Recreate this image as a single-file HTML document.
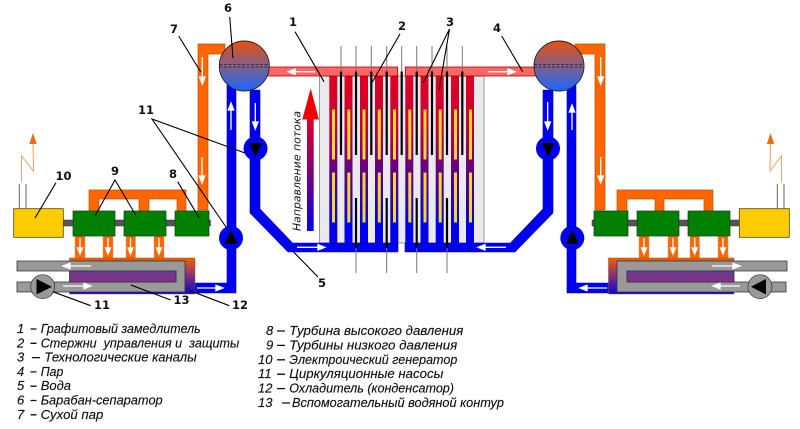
<!DOCTYPE html>
<html><head><meta charset="utf-8"><style>html,body{margin:0;padding:0;background:#fff}svg{display:block}
.n{font:bold 11.5px "DejaVu Sans",sans-serif;fill:#111;text-anchor:middle}
.l{font:italic 13px "Liberation Sans",sans-serif;fill:#111;stroke:#111;stroke-width:.15}
</style></head><body>
<svg width="800" height="429" viewBox="0 0 800 429" xmlns="http://www.w3.org/2000/svg">
<defs>
<linearGradient id="ch" gradientUnits="userSpaceOnUse" x1="0" y1="76" x2="0" y2="243"><stop offset="0" stop-color="#e00020"/><stop offset=".3" stop-color="#c80038"/><stop offset=".55" stop-color="#660080"/><stop offset=".75" stop-color="#3000b0"/><stop offset=".88" stop-color="#0000e8"/><stop offset="1" stop-color="#0000f0"/></linearGradient>
<linearGradient id="ar" gradientUnits="userSpaceOnUse" x1="0" y1="110" x2="0" y2="231"><stop offset="0" stop-color="#f00020"/><stop offset=".5" stop-color="#800070"/><stop offset="1" stop-color="#0000f0"/></linearGradient>
<linearGradient id="dr" x1="0" y1="0" x2="0" y2="1"><stop offset="0" stop-color="#e8500f"/><stop offset=".5" stop-color="#80608a"/><stop offset="1" stop-color="#1a66ff"/></linearGradient>
<linearGradient id="co" x1="0" y1="0" x2="0" y2="1"><stop offset="0" stop-color="#f06000"/><stop offset=".5" stop-color="#803080"/><stop offset="1" stop-color="#1000d0"/></linearGradient>
<linearGradient id="pu" x1="0" y1="0" x2="0" y2="1"><stop offset="0" stop-color="#6a3a90"/><stop offset="1" stop-color="#86308a"/></linearGradient>
</defs>

<!-- graphite -->
<rect x="319.5" y="76" width="164.5" height="167" fill="#e9e9ee" stroke="#999" stroke-width="1"/>
<!-- channels -->
<g fill="url(#ch)">
<rect x="329.3" y="76" width="8" height="167"/><rect x="344.5" y="76" width="8" height="167"/><rect x="360" y="76" width="8" height="167"/><rect x="375" y="76" width="8" height="167"/><rect x="390.3" y="76" width="8" height="167"/><rect x="405.3" y="76" width="8" height="167"/><rect x="420.5" y="76" width="8" height="167"/><rect x="435.7" y="76" width="8" height="167"/><rect x="451" y="76" width="8" height="167"/><rect x="466" y="76" width="8" height="167"/>
</g>
<g fill="#f4d832">
<rect x="332" y="109.5" width="3" height="50"/><rect x="347.3" y="109.5" width="3" height="50"/><rect x="362.5" y="109.5" width="3" height="50"/><rect x="377.8" y="109.5" width="3" height="50"/><rect x="393" y="109.5" width="3" height="50"/><rect x="408.3" y="109.5" width="3" height="50"/><rect x="423.5" y="109.5" width="3" height="50"/><rect x="438.7" y="109.5" width="3" height="50"/><rect x="454" y="109.5" width="3" height="50"/><rect x="469" y="109.5" width="3" height="50"/>
<rect x="332" y="172.5" width="3" height="50"/><rect x="347.3" y="172.5" width="3" height="50"/><rect x="362.5" y="172.5" width="3" height="50"/><rect x="377.8" y="172.5" width="3" height="50"/><rect x="393" y="172.5" width="3" height="50"/><rect x="408.3" y="172.5" width="3" height="50"/><rect x="423.5" y="172.5" width="3" height="50"/><rect x="438.7" y="172.5" width="3" height="50"/><rect x="454" y="172.5" width="3" height="50"/><rect x="469" y="172.5" width="3" height="50"/>
</g>

<!-- water headers -->
<path d="M250 90H260V209L292.5 243H398V252H288L250 213Z" fill="#0000f0" stroke="#0000a0" stroke-width=".6"/>
<path d="M553 90H543V209L510.5 243H405V252H515L553 213Z" fill="#0000f0" stroke="#0000a0" stroke-width=".6"/>
<!-- steam header -->
<path d="M262 67H397.7V76H262Z" fill="#ff6666" stroke="#900" stroke-width=".8"/>
<path d="M405.3 76V67H540V76Z" fill="#ff6666" stroke="#900" stroke-width=".8"/>

<!-- control rods -->
<g stroke="#777" stroke-width="1"><path d="M341 46V72M356 46V72M371.3 46V72M386.7 46V72M401.7 46V72M416.7 46V72M432 46V72M447 46V72M462.3 46V72M356 247V273M386.7 247V273M416.7 247V273M447 247V273"/></g>
<g stroke="#000" stroke-width="2.2"><path d="M341 71.5V155M356 71.5V155M371.3 71.5V155M386.7 71.5V155M401.7 71.5V155M416.7 71.5V155M432 71.5V155M447 71.5V155M462.3 71.5V155M356 198V248M386.7 198V248M416.7 198V248M447 198V248"/></g>

<!-- orange left/right mains -->
<path d="M198 210V44H225V54H208V210Z" fill="#ff6600" stroke="#b85000" stroke-width=".7"/>
<path d="M605 210V44H575V54H595V210Z" fill="#ff6600" stroke="#b85000" stroke-width=".7"/>
<!-- blue pipes -->
<path d="M227 85H236V293H193V283H227Z" fill="#0000f0" stroke="#0000a0" stroke-width=".6"/>
<path d="M576 85H567V293H610V283H576Z" fill="#0000f0" stroke="#0000a0" stroke-width=".6"/>

<!-- drums -->
<circle cx="244.3" cy="66" r="25" fill="url(#dr)" stroke="#222" stroke-width=".9"/>
<path d="M219.5 64.5H269M219.5 67H269" stroke="#222" stroke-width=".8" stroke-dasharray="3 1.5"/>
<circle cx="559" cy="66" r="25" fill="url(#dr)" stroke="#222" stroke-width=".9"/>
<path d="M534 64.5H584M534 67H584" stroke="#222" stroke-width=".8" stroke-dasharray="3 1.5"/>

<!-- left turbine group -->
<path d="M89 212V190H186V212H177V199H149V212H139V199H99V212Z" fill="#ff6600" stroke="#b85000" stroke-width=".7"/>
<rect x="63" y="220" width="147.5" height="6" fill="#555" stroke="#333" stroke-width=".5"/>
<g fill="#ff6600" stroke="#c8a080" stroke-width=".5"><rect x="75" y="236" width="10" height="22"/><rect x="103" y="236" width="10" height="22"/><rect x="126" y="236" width="9.5" height="22"/><rect x="154" y="236" width="10" height="22"/></g>
<rect x="69.5" y="258" width="125.5" height="36" fill="url(#co)" stroke="#a05010" stroke-width=".5"/>
<path d="M17 261H185V292H17V282H176V271H17Z" fill="#999" stroke="#333" stroke-width=".8"/>
<rect x="69.5" y="271" width="106.5" height="11" fill="url(#pu)" stroke="#333" stroke-width=".7"/>
<rect x="73" y="211" width="42" height="25" fill="#008000" stroke="#1a3a1a" stroke-width=".7"/>
<rect x="124" y="211" width="42" height="25" fill="#008000" stroke="#1a3a1a" stroke-width=".7"/>
<rect x="175" y="211" width="34" height="25" fill="#008000" stroke="#1a3a1a" stroke-width=".7"/>
<rect x="13.7" y="208.7" width="49.6" height="28.6" fill="#ffcc00" stroke="#554400" stroke-width=".8"/>
<path d="M19.3 184V209M26 184V209" stroke="#666" stroke-width="1"/>
<path d="M21.5 182V156L33.5 171L33 143" fill="none" stroke="#f0a060" stroke-width="1"/>
<path d="M33 133L29.3 144H36.7Z" fill="#f06a10"/>

<!-- right turbine group -->
<path d="M617 212V190H713V212H704V199H664V212H655V199H627V212Z" fill="#ff6600" stroke="#b85000" stroke-width=".7"/>
<rect x="592" y="220" width="147" height="6" fill="#555" stroke="#333" stroke-width=".5"/>
<g fill="#ff6600" stroke="#c8a080" stroke-width=".5"><rect x="639" y="236" width="10" height="22"/><rect x="668" y="236" width="10" height="22"/><rect x="690" y="236" width="9.5" height="22"/><rect x="718" y="236" width="10" height="22"/></g>
<rect x="608.5" y="258" width="125.5" height="36" fill="url(#co)" stroke="#a05010" stroke-width=".5"/>
<path d="M787 261H617V292H786V282H627V271H787Z" fill="#999" stroke="#333" stroke-width=".8"/>
<rect x="627" y="271" width="107" height="11" fill="url(#pu)" stroke="#333" stroke-width=".7"/>
<rect x="594" y="211" width="34" height="25" fill="#008000" stroke="#1a3a1a" stroke-width=".7"/>
<rect x="637" y="211" width="42" height="25" fill="#008000" stroke="#1a3a1a" stroke-width=".7"/>
<rect x="688" y="211" width="42" height="25" fill="#008000" stroke="#1a3a1a" stroke-width=".7"/>
<rect x="739.3" y="208.7" width="50" height="28.6" fill="#ffcc00" stroke="#554400" stroke-width=".8"/>
<path d="M777.3 184V209M784 184V209" stroke="#666" stroke-width="1"/>
<path d="M781.5 182V156L770 171L770.5 143" fill="none" stroke="#f0a060" stroke-width="1"/>
<path d="M770.5 133L766.8 144H774.2Z" fill="#f06a10"/>

<!-- pumps -->
<circle cx="255.5" cy="148.5" r="12" fill="#0000f0"/><path d="M249 143H262L255.5 157Z" fill="#000"/>
<circle cx="548" cy="148.5" r="12" fill="#0000f0"/><path d="M541.5 143H554.5L548 157Z" fill="#000"/>
<circle cx="231" cy="238" r="12" fill="#0000f0"/><path d="M224.5 244H237.5L231 230Z" fill="#000"/>
<circle cx="572.3" cy="238" r="12" fill="#0000f0"/><path d="M565.8 244H578.8L572.3 230Z" fill="#000"/>
<circle cx="42.7" cy="286.7" r="12" fill="#999" stroke="#333" stroke-width=".7"/><path d="M36.5 279V294.5L52 286.7Z" fill="#000"/>
<circle cx="760" cy="286.7" r="12" fill="#999" stroke="#333" stroke-width=".7"/><path d="M766 279V294.5L751 286.7Z" fill="#000"/>

<!-- flow arrow -->
<path d="M310.7 88.3L302.3 119.5H318.9Z" fill="#f00000"/>
<rect x="307" y="119" width="6.7" height="112" fill="url(#ar)"/>
<text transform="translate(300.5 231) rotate(-90)" font-family="'DejaVu Sans',sans-serif" font-size="11" font-style="italic" fill="#111" textLength="120" lengthAdjust="spacingAndGlyphs">Направление потока</text>

<!-- white arrows -->
<g stroke="#fff" stroke-width="1.3" fill="#fff">
<path d="M315 71.7H293" fill="none"/><path d="M288 71.7L295 69V74.4Z"/>
<path d="M488 71.7H510" fill="none"/><path d="M515 71.7L508 69V74.4Z"/>
<path d="M297 247.3H319" fill="none"/><path d="M325 247.3L318 244.6V250Z"/>
<path d="M506 247.3H484" fill="none"/><path d="M478 247.3L485 244.6V250Z"/>
<path d="M231 130V108" fill="none"/><path d="M231 103L228.3 110H233.7Z"/>
<path d="M255.3 103V123" fill="none"/><path d="M255.3 129L252.6 122H258Z"/>
<path d="M202.3 57V78" fill="none"/><path d="M202.3 84L199.6 77H205Z"/>
<path d="M600.7 57V78" fill="none"/><path d="M600.7 84L598 77H603.4Z"/>
<path d="M547.7 102V123" fill="none"/><path d="M547.7 129L545 122H550.4Z"/>
<path d="M572 130V110" fill="none"/><path d="M572 105L569.3 112H574.7Z"/>
<path d="M202 157V177" fill="none"/><path d="M202 183L199.3 176H204.7Z"/>
<path d="M600.7 157V177" fill="none"/><path d="M600.7 183L598 176H603.4Z"/>
<path d="M80 238V249M108 238V249M130.5 238V249M159 238V249M644 238V249M673 238V249M694.7 238V249M723 238V249" fill="none"/>
<path d="M80 254L77.5 248H82.5ZM108 254L105.5 248H110.5ZM130.5 254L128 248H133ZM159 254L156.5 248H161.5ZM644 254L641.5 248H646.5ZM673 254L670.5 248H675.5ZM694.7 254L692.2 248H697.2ZM723 254L720.5 248H725.5Z"/>
<path d="M91 266H69" fill="none"/><path d="M63 266L70 263.3V268.7Z"/>
<path d="M63 286H85" fill="none"/><path d="M91 286L84 283.3V288.7Z"/>
<path d="M197 288H217" fill="none"/><path d="M223 288L216 285.3V290.7Z"/>
<path d="M712 266H734" fill="none"/><path d="M740 266L733 263.3V268.7Z"/>
<path d="M740 286H719" fill="none"/><path d="M713 286L720 283.3V288.7Z"/>
<path d="M607 288H586" fill="none"/><path d="M580 288L587 285.3V290.7Z"/>
</g>

<!-- leaders -->
<g stroke="#000" stroke-width="1.1" fill="none">
<path d="M295 31.7L324 81.7"/><path d="M400 34L371.7 83"/><path d="M449.5 29L423 83M449.5 29L439 90"/>
<path d="M501.7 36L522.7 71.7"/><path d="M291.7 250L318 277"/><path d="M229.7 17L233 58"/>
<path d="M178.7 36L200.7 72"/><path d="M177.7 181.7L199 217.7"/><path d="M95 216L115 180L135.7 215"/>
<path d="M56 182.7L35 218"/><path d="M245 153L152 119L226.7 228"/>
<path d="M52.7 291.7L90.7 305.7"/><path d="M131 285L170.7 300"/><path d="M190 290.7L229.3 305.7"/>
</g>
<text class="n" x="293" y="26">1</text><text class="n" x="402" y="30">2</text><text class="n" x="450" y="26">3</text>
<text class="n" x="497" y="32">4</text><text class="n" x="322" y="287">5</text><text class="n" x="228" y="12">6</text>
<text class="n" x="174" y="33">7</text><text class="n" x="173" y="178">8</text><text class="n" x="115" y="175">9</text>
<text class="n" x="63.5" y="180">10</text><text class="n" x="146" y="114">11</text><text class="n" x="102" y="309">11</text>
<text class="n" x="240" y="309">12</text><text class="n" x="181.5" y="304">13</text>

<!-- legend -->
<g stroke="#111" stroke-width="1.3">
<path d="M30.5 329H36.5M30.5 343.3H36.5M32 357.6H40M30.5 371.9H36.5M30.5 386.2H36.5M30.5 400.5H36.5M30.5 414.8H36.5"/>
<path d="M277 331H285M277 345.4H285M277 359.8H285M277 374.2H285M277 388.6H285M282 403H290"/>
</g>
<text class="l" x="17" y="333">1</text><text class="l" x="40.7" y="333" textLength="160" lengthAdjust="spacingAndGlyphs">Графитовый замедлитель</text>
<text class="l" x="17" y="347.3">2</text><text class="l" x="40.7" y="347.3" textLength="198.6" lengthAdjust="spacingAndGlyphs" xml:space="preserve">Стержни  управления и  защиты</text>
<text class="l" x="17" y="361.6">3</text><text class="l" x="44.3" y="361.6" textLength="152.4" lengthAdjust="spacingAndGlyphs">Технологические каналы</text>
<text class="l" x="17" y="375.9">4</text><text class="l" x="40.7" y="375.9" textLength="22.6" lengthAdjust="spacingAndGlyphs">Пар</text>
<text class="l" x="17" y="390.2">5</text><text class="l" x="40.7" y="390.2" textLength="30.3" lengthAdjust="spacingAndGlyphs">Вода</text>
<text class="l" x="17" y="404.5">6</text><text class="l" x="40.7" y="404.5" textLength="122" lengthAdjust="spacingAndGlyphs">Барабан-сепаратор</text>
<text class="l" x="17" y="418.8">7</text><text class="l" x="40.7" y="418.8" textLength="62.6" lengthAdjust="spacingAndGlyphs">Сухой пар</text>

<text class="l" x="266" y="335">8</text><text class="l" x="289.3" y="335" textLength="174" lengthAdjust="spacingAndGlyphs">Турбина высокого давления</text>
<text class="l" x="266" y="349.4">9</text><text class="l" x="289.3" y="349.4" textLength="168" lengthAdjust="spacingAndGlyphs">Турбины низкого давления</text>
<text class="l" x="258" y="363.8">10</text><text class="l" x="289.3" y="363.8" textLength="168" lengthAdjust="spacingAndGlyphs">Электроический генератор</text>
<text class="l" x="258" y="378.2">11</text><text class="l" x="289.3" y="378.2" textLength="154" lengthAdjust="spacingAndGlyphs">Циркуляционные насосы</text>
<text class="l" x="258" y="392.6">12</text><text class="l" x="289.3" y="392.6" textLength="164.7" lengthAdjust="spacingAndGlyphs">Охладитель (конденсатор)</text>
<text class="l" x="258" y="407">13</text><text class="l" x="292" y="407" textLength="212" lengthAdjust="spacingAndGlyphs">Вспомогательный водяной контур</text>
</svg>
</body></html>
